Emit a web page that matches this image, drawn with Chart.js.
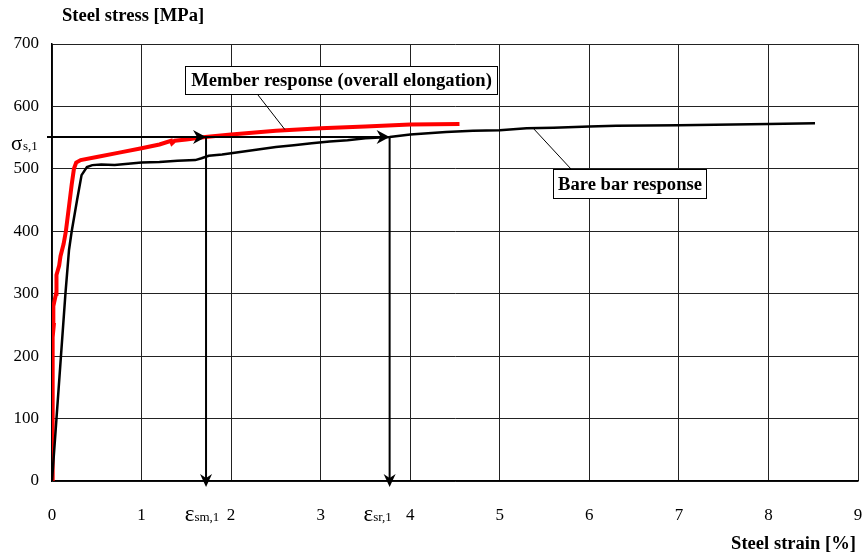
<!DOCTYPE html>
<html>
<head>
<meta charset="utf-8">
<script src="https://cdn.jsdelivr.net/npm/chart.js@4/dist/chart.umd.min.js"></script>
<style>
html,body{margin:0;padding:0;background:#fff;}
#wrap{width:864px;height:558px;position:relative;}
</style>
</head>
<body>
<div id="wrap"><canvas id="c" width="864" height="558"></canvas></div>
<script>
// ---- data ----
const xTicks = [0,1,2,3,4,5,6,7,8,9];
const yTicks = [0,100,200,300,400,500,600,700];
const memberStrain = [0,0.004,0.008,0.01,0.02,0.015,0.045,0.05,0.08,0.095,0.13,0.155,0.19,0.22,0.245,0.27,0.32,0.5,0.75,1.0,1.2,1.33,1.34,1.37,1.5,1.71,2.0,2.5,3.0,3.5,4.0,4.55];
const memberStress = [0,100,160,230,250,280,300,330,345,360,380,400,440,475,500,510,514,519,526,533,539,545,541,545,547,551,555,561,565,568,571,572];
const bareStrain = [0,0.05,0.1,0.15,0.19,0.22,0.28,0.33,0.39,0.45,0.55,0.7,0.85,1.0,1.2,1.4,1.6,1.67,1.75,1.9,2.1,2.3,2.5,2.7,2.9,3.1,3.3,3.5,3.77,4.0,4.2,4.4,4.7,5.0,5.3,5.6,6.0,6.3,7.0,8.0,8.52];
const bareStress = [0,100,200,300,370,400,450,490,503,506,507,506,508,510,511,513,514,517,521,523,527,531,535,538,541,544,546,549,551,555,557,559,561,562,565,566,568,569,570,572,573];
const sigmaS1 = 551;
const epsSm1 = 1.72;
const epsSr1 = 3.77;
const memberLabel = "Member response (overall elongation)";
const bareLabel = "Bare bar response";
const memberLeaderPoint = [2.6, 563];
const bareLeaderPoint = [5.38, 564];

const toPts = (xs, ys) => xs.map((x,i)=>({x:x, y:ys[i]}));

const SERIF = '"Liberation Serif", "Times New Roman", serif';

function arrowHead(ctx, x, y, dir){
  const L = 13, W = 7, N = 4;
  ctx.beginPath();
  if (dir === 'right'){
    ctx.moveTo(x, y); ctx.lineTo(x-L, y-W); ctx.lineTo(x-L+N, y); ctx.lineTo(x-L, y+W);
  } else {
    ctx.moveTo(x, y); ctx.lineTo(x-W+1, y-L); ctx.lineTo(x, y-L+N); ctx.lineTo(x+W-1, y-L);
  }
  ctx.closePath(); ctx.fill();
}

const overlay = {
  id: 'overlay',
  afterDatasetsDraw(chart){
    const ctx = chart.ctx, xs = chart.scales.x, ys = chart.scales.y;
    ctx.save();
    ctx.strokeStyle = '#000'; ctx.fillStyle = '#000';
    const yS = ys.getPixelForValue(sigmaS1);
    const xSm = xs.getPixelForValue(epsSm1);
    const xSr = xs.getPixelForValue(epsSr1);
    const y0 = ys.getPixelForValue(0);
    ctx.lineWidth = 2;
    ctx.beginPath(); ctx.moveTo(xs.left-5, yS); ctx.lineTo(xSr-4, yS); ctx.stroke();
    ctx.beginPath(); ctx.moveTo(xSm, yS); ctx.lineTo(xSm, y0+2); ctx.stroke();
    ctx.beginPath(); ctx.moveTo(xSr, yS); ctx.lineTo(xSr, y0+2); ctx.stroke();
    arrowHead(ctx, xSm, yS, 'right');
    arrowHead(ctx, xSr, yS, 'right');
    arrowHead(ctx, xSm, y0+6, 'down');
    arrowHead(ctx, xSr, y0+6, 'down');

    // leader lines
    ctx.lineWidth = 1;
    ctx.beginPath(); ctx.moveTo(258, 95);
    ctx.lineTo(xs.getPixelForValue(memberLeaderPoint[0]), ys.getPixelForValue(memberLeaderPoint[1])); ctx.stroke();
    ctx.beginPath(); ctx.moveTo(571, 169);
    ctx.lineTo(xs.getPixelForValue(bareLeaderPoint[0]), ys.getPixelForValue(bareLeaderPoint[1])); ctx.stroke();

    // label boxes
    ctx.font = 'bold 18.6px ' + SERIF;
    ctx.textBaseline = 'middle'; ctx.textAlign = 'center';
    function box(x1,y1,x2,y2,t){
      ctx.fillStyle = '#fff'; ctx.fillRect(x1,y1,x2-x1,y2-y1);
      ctx.strokeStyle = '#000'; ctx.lineWidth = 1;
      ctx.strokeRect(x1+0.5,y1+0.5,x2-x1-1,y2-y1-1);
      ctx.fillStyle = '#000'; ctx.fillText(t,(x1+x2)/2,(y1+y2)/2+1);
    }
    box(185,66,498,95,memberLabel);
    box(553,169,707,199,bareLabel);

    // titles
    ctx.textAlign = 'left';
    ctx.font = 'bold 18.6px ' + SERIF;
    ctx.fillText('Steel stress [MPa]', 62, 16);
    ctx.textAlign = 'right';
    ctx.fillText('Steel strain [%]', 856, 544);

    // sigma label
    ctx.textAlign = 'left'; ctx.textBaseline = 'alphabetic';
    ctx.font = '21px ' + SERIF;
    ctx.fillText('σ', 11, 150);
    ctx.font = '13px ' + SERIF;
    ctx.fillText('s,1', 23, 150);
    // epsilon labels
    function epsLabel(xc, sub){
      ctx.font = '23px ' + SERIF;
      const w1 = ctx.measureText('ε').width;
      ctx.font = '13px ' + SERIF;
      const w2 = ctx.measureText(sub).width;
      const x = xc - (w1+w2)/2;
      ctx.font = '23px ' + SERIF; ctx.fillText('ε', x, 521);
      ctx.font = '13px ' + SERIF; ctx.fillText(sub, x+w1, 521);
    }
    epsLabel(xSm-4, 'sm,1');
    epsLabel(xSr-12, 'sr,1');
    ctx.restore();
  }
};

new Chart(document.getElementById('c'), {
  type: 'scatter',
  data: {
    datasets: [
      { label: 'Bare bar response', data: toPts(bareStrain, bareStress), showLine: true,
        borderColor: '#000', borderWidth: 2.5, pointRadius: 0, tension: 0 },
      { label: 'Member response', data: toPts(memberStrain, memberStress), showLine: true,
        borderColor: '#ff0000', borderWidth: 4, pointRadius: 0, tension: 0 }
    ]
  },
  options: {
    responsive: false,
    animation: false,
    layout: { padding: { left: 0, top: 44, right: 6, bottom: 0 } },
    plugins: { legend: { display: false }, tooltip: { enabled: false } },
    scales: {
      x: {
        type: 'linear', min: 0, max: 9,
        afterBuildTicks: s => { s.ticks = xTicks.map(v => ({value: v})); },
        afterFit: s => { s.height = 77; s.paddingLeft = 0; s.paddingRight = 0; },
        grid: { color: '#222', lineWidth: 1, drawTicks: false },
        border: { color: '#000', width: 1.5 },
        ticks: { padding: 24, color: '#000', font: { family: SERIF, size: 17 } }
      },
      y: {
        type: 'linear', min: 0, max: 700,
        afterBuildTicks: s => { s.ticks = yTicks.map(v => ({value: v})); },
        afterFit: s => { s.width = 52; s.paddingTop = 0; s.paddingBottom = 0; },
        grid: { color: '#222', lineWidth: 1, drawTicks: false },
        border: { color: '#000', width: 1.5 },
        ticks: { padding: 13, color: '#000', font: { family: SERIF, size: 17 } }
      }
    }
  },
  plugins: [overlay]
});
</script>
</body>
</html>
